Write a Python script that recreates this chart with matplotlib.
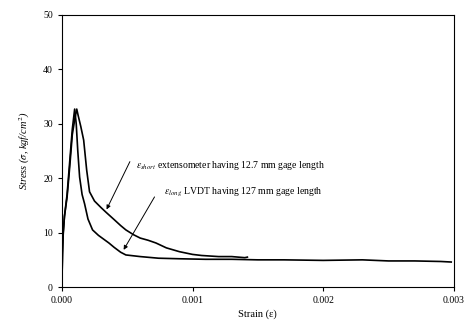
import matplotlib
matplotlib.use('Agg')
from matplotlib import pyplot as plt
import numpy as np

plt.rcParams['font.family'] = ['Liberation Serif', 'DejaVu Serif']
plt.rcParams['mathtext.fontset'] = 'stix'

# extensometer, 12.7 mm gage length (short)
short_strain = [0.0, 0.000005, 0.00001, 0.00002, 0.00004, 0.00006, 0.00008, 0.0001,
                0.000114, 0.000125, 0.000145, 0.000167, 0.00019, 0.000212, 0.00025,
                0.0003, 0.00034, 0.0004, 0.00045, 0.00049, 0.00055, 0.0006, 0.00066,
                0.00072, 0.0008, 0.0009, 0.001, 0.00107, 0.0012, 0.0013, 0.0014, 0.00142]
short_stress = [0.0, 6.5, 10.0, 13.0, 16.5, 22.0, 28.0, 31.0,
                32.7, 31.5, 29.5, 27.0, 21.5, 17.5, 15.8,
                14.6, 13.7, 12.4, 11.3, 10.5, 9.6, 9.0, 8.6,
                8.1, 7.2, 6.5, 6.0, 5.8, 5.6, 5.6, 5.4, 5.5]

# LVDT, 127 mm gage length (long)
long_strain = [0.0, 0.000005, 0.00001, 0.00002, 0.00004, 0.00006, 0.00008, 0.000098,
               0.00011, 0.000122, 0.000136, 0.000155, 0.000174, 0.0002, 0.000235,
               0.00028, 0.00032, 0.00036, 0.0004, 0.00045, 0.00049, 0.0006, 0.00074,
               0.0009, 0.0011, 0.0013, 0.0015, 0.0017, 0.002, 0.0023, 0.0025,
               0.0027, 0.0029, 0.00298]
long_stress = [0.0, 6.0, 9.5, 13.0, 17.0, 23.0, 29.0, 32.7,
               30.0, 25.0, 20.2, 17.0, 15.3, 12.5, 10.5,
               9.5, 8.8, 8.1, 7.3, 6.4, 5.9, 5.6, 5.3,
               5.2, 5.1, 5.1, 5.0, 5.0, 4.9, 5.0, 4.8,
               4.8, 4.7, 4.6]

fig = plt.figure(figsize=(4.65, 3.24), dpi=100)
ax = fig.add_axes([0.133, 0.114, 0.843, 0.84])

ax.plot(short_strain, short_stress, color='black', lw=1.2)
ax.plot(long_strain, long_stress, color='black', lw=1.2)

ax.set_xlim(0, 0.003)
ax.set_ylim(0, 50)
ax.set_xticks([0, 0.001, 0.002, 0.003])
ax.set_xticklabels(['0.000', '0.001', '0.002', '0.003'])
ax.set_yticks([0, 10, 20, 30, 40, 50])
ax.tick_params(labelsize=7, direction='out', length=3, width=0.8)
for s in ax.spines.values():
    s.set_linewidth(0.8)

ax.set_xlabel('Strain (ε)', fontsize=7.5, labelpad=3)
ax.set_ylabel(r'Stress ($\sigma$, kgf/cm$^2$)', fontsize=7.5, style='italic', labelpad=8)

ax.annotate('', xy=(0.000333, 13.8), xytext=(0.00053, 23.5),
            arrowprops=dict(arrowstyle='-|>', color='black', lw=0.7, mutation_scale=6))
ax.text(0.000565, 22.4, r'$\varepsilon_{short}$ extensometer having 12.7 mm gage length',
        fontsize=7, va='center', ha='left')

ax.annotate('', xy=(0.000462, 6.4), xytext=(0.00072, 17.0),
            arrowprops=dict(arrowstyle='-|>', color='black', lw=0.7, mutation_scale=6))
ax.text(0.00078, 17.3, r'$\varepsilon_{long}$ LVDT having 127 mm gage length',
        fontsize=7, va='center', ha='left')

fig.savefig('out.png', dpi=100)
